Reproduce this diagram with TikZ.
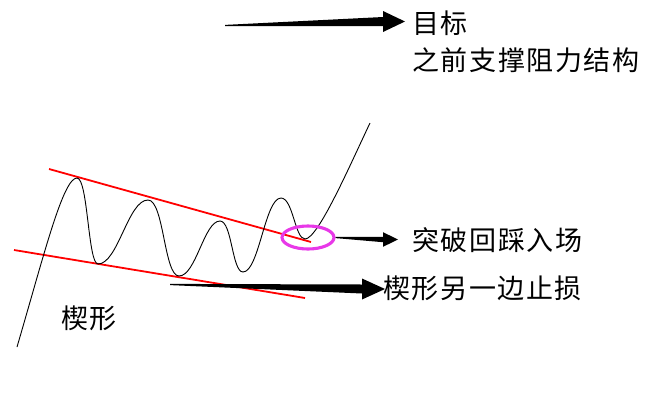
\documentclass[tikz,border=0pt]{standalone}
\usepackage{fontspec}
\newfontfamily\cjk{Noto Sans CJK SC}[LetterSpace=6]
\usetikzlibrary{calc,shapes.geometric}
\definecolor{wedgered}{RGB}{255,0,0}
\definecolor{ringmag}{RGB}{232,56,232}
\tikzset{
  lbl/.style={anchor=west, inner sep=0pt, font=\cjk\fontsize{27}{30}\selectfont},
  priceline/.style={black, line width=0.9pt},
  trendline/.style={wedgered, line width=1.8pt},
  ring/.style={ringmag, line width=3.1pt},
}
\newcommand\wedgearrow[5]{%
  \fill[black] ($(#1)+(0,-0.6)$) -- ($(#2)+(-#3,-#4)$) -- ($(#2)+(-#3,-#5)$) -- (#2)
    -- ($(#2)+(-#3,#5)$) -- ($(#2)+(-#3,#4)$) -- ($(#1)+(0,0.6)$) -- cycle;}
\begin{document}
\begin{tikzpicture}[x=1pt,y=-1pt]
\useasboundingbox (0,0) rectangle (654,413);
% texts
\node[lbl] (target) at (412,23) {目标};
\node[lbl] (prior) at (412,60) {之前支撑阻力结构};
\node[lbl] (entry) at (412,240) {突破回踩入场};
\node[lbl] (stop) at (383,288) {楔形另一边止损};
\node[lbl] (wedge) at (61,318) {楔形};
% trend lines
\coordinate (u1) at (49,169);
\coordinate (u2) at (311,242);
\coordinate (l1) at (14,250);
\coordinate (l2) at (305,298);
\draw[trendline] (u1) -- (u2);
\draw[trendline] (l1) -- (l2);
% price path
\coordinate (p0) at (17,347);
\coordinate (p1) at (77,178);
\coordinate (p2) at (98,264);
\coordinate (p3) at (148,200);
\coordinate (p4) at (179,276);
\coordinate (p5) at (220,221);
\coordinate (p6) at (243,272);
\coordinate (p7) at (281,198);
\coordinate (p8) at (305,239);
\coordinate (p9) at (370,123);
\draw[priceline] (p0)
  .. controls (44,255) and (63,178) .. (p1)
  .. controls (88,178) and (88,264) .. (p2)
  .. controls (118,264) and (128,200) .. (p3)
  .. controls (164,200) and (164,276) .. (p4)
  .. controls (196,276) and (204,221) .. (p5)
  .. controls (232,221) and (232,272) .. (p6)
  .. controls (259,272) and (265,198) .. (p7)
  .. controls (293,198) and (295,239) .. (p8)
  .. controls (318,239) and (350,165) .. (p9);
% ring
\node[ring, draw, ellipse, minimum width=52pt, minimum height=23pt, inner sep=0pt] (pullback) at (308,237.5) {};
% arrows
\coordinate (a1t) at (225,25.5);
\coordinate (a1h) at ($(target.west)+(-7,-1.5)$);
\wedgearrow{a1t}{a1h}{22}{4.5}{10.5}
\coordinate (a2h) at ($(entry.west)+(-14,-0.5)$);
\wedgearrow{pullback.east}{a2h}{15}{2.7}{7.3}
\coordinate (a3t) at (170,284.5);
\coordinate (a3h) at ($(stop.west)+(2,1)$);
\wedgearrow{a3t}{a3h}{23}{4.5}{10.5}
\end{tikzpicture}
\end{document}
